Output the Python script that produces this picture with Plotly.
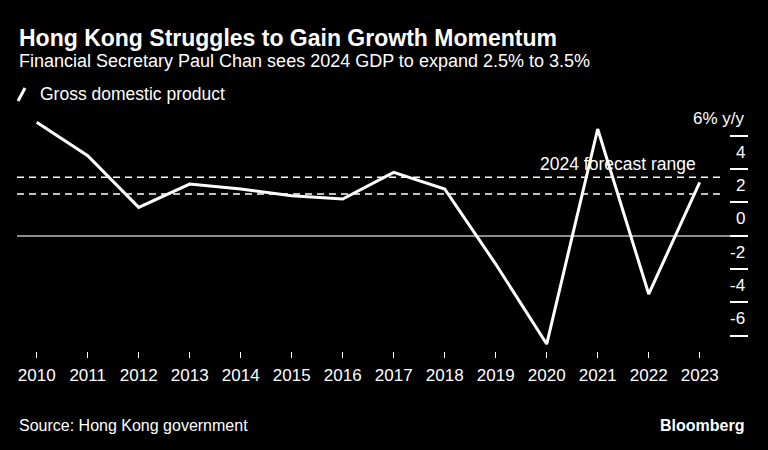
import plotly.graph_objects as go

years = [2010, 2011, 2012, 2013, 2014, 2015, 2016, 2017, 2018, 2019, 2020, 2021, 2022, 2023]
gdp = [6.8, 4.8, 1.7, 3.1, 2.8, 2.4, 2.2, 3.8, 2.8, -1.7, -6.5, 6.4, -3.5, 3.2]
forecast_range = [2.5, 3.5]
y_ticks = [6, 4, 2, 0, -2, -4, -6]
y_tick_labels = ["6% y/y", "4", "2", "0", "-2", "-4", "-6"]

FONT = "Liberation Sans, Arial, sans-serif"
W, H = 768, 450
L, R, T, B = 17, 20, 110, 99
plot_h = H - T - B
plot_w = W - L - R


def py(pix):
    return (H - B - pix) / plot_h


def px(pix):
    return (pix - L) / plot_w


fig = go.Figure()
fig.add_trace(go.Scatter(x=years, y=gdp, mode="lines",
                         line=dict(color="white", width=3), showlegend=False,
                         hoverinfo="x+y"))

shapes = []
for v in forecast_range:
    shapes.append(dict(type="line", xref="paper", yref="y", x0=0, x1=px(720), y0=v, y1=v,
                       line=dict(color="white", width=1.5, dash="7px,5px")))
# legend icon
shapes.append(dict(type="line", xref="paper", yref="paper", x0=px(18), x1=px(25),
                   y0=py(101), y1=py(88), line=dict(color="white", width=3)))

annotations = [
    dict(text="<b>Hong Kong Struggles to Gain Growth Momentum</b>", xref="paper", yref="paper",
         x=0, y=py(38), xanchor="left", yanchor="middle", showarrow=False,
         font=dict(family=FONT, size=23, color="white")),
    dict(text="Financial Secretary Paul Chan sees 2024 GDP to expand 2.5% to 3.5%", xref="paper",
         yref="paper", x=0, y=py(61), xanchor="left", yanchor="middle", showarrow=False,
         font=dict(family=FONT, size=18, color="white")),
    dict(text="Gross domestic product", xref="paper", yref="paper", x=px(38), y=py(94),
         xanchor="left", yanchor="middle", showarrow=False,
         font=dict(family=FONT, size=17.5, color="white")),
    dict(text="2024 forecast range", xref="paper", yref="y", x=px(698), y=forecast_range[1],
         xanchor="right", yanchor="bottom", yshift=1, showarrow=False,
         font=dict(family=FONT, size=17.5, color="white")),
    dict(text="Source: Hong Kong government", xref="paper", yref="paper", x=0, y=py(425),
         xanchor="left", yanchor="middle", showarrow=False,
         font=dict(family=FONT, size=16, color="white")),
    dict(text="<b>Bloomberg</b>", xref="paper", yref="paper", x=px(746), y=py(425),
         xanchor="right", yanchor="middle", showarrow=False,
         font=dict(family=FONT, size=16, color="white")),
]
for v, lab in zip(y_ticks, y_tick_labels):
    annotations.append(dict(text=lab, xref="paper", yref="y", x=px(747), y=v,
                            xanchor="right", yanchor="middle", yshift=17, showarrow=False,
                            font=dict(family=FONT, size=17, color="white")))

fig.update_layout(
    width=W, height=H,
    margin=dict(l=L, r=R, t=T, b=B),
    paper_bgcolor="black", plot_bgcolor="black",
    font=dict(family=FONT, color="white"),
    shapes=shapes, annotations=annotations,
    showlegend=False,
    xaxis=dict(range=[2009.614, 2023.947], tickmode="array", tickvals=years,
               ticktext=[str(y) for y in years], ticks="outside", ticklen=6,
               tickwidth=1, tickcolor="white", showgrid=False, zeroline=False,
               showline=False, ticklabelstandoff=3,
               tickfont=dict(family=FONT, size=17, color="white")),
    yaxis=dict(range=[-6.917, 7.541], side="right", tickmode="array", tickvals=y_ticks,
               ticks="inside", ticklen=18, tickwidth=1.5, tickcolor="white",
               showticklabels=False, showgrid=False, zeroline=True,
               zerolinecolor="#8c8c8c", zerolinewidth=1.5, showline=False),
)

fig.write_html(
    "out.html",
    config={"displayModeBar": False},
    post_script="document.body.style.margin='0';document.body.style.background='black';"
                "document.body.style.overflow='hidden';",
)
